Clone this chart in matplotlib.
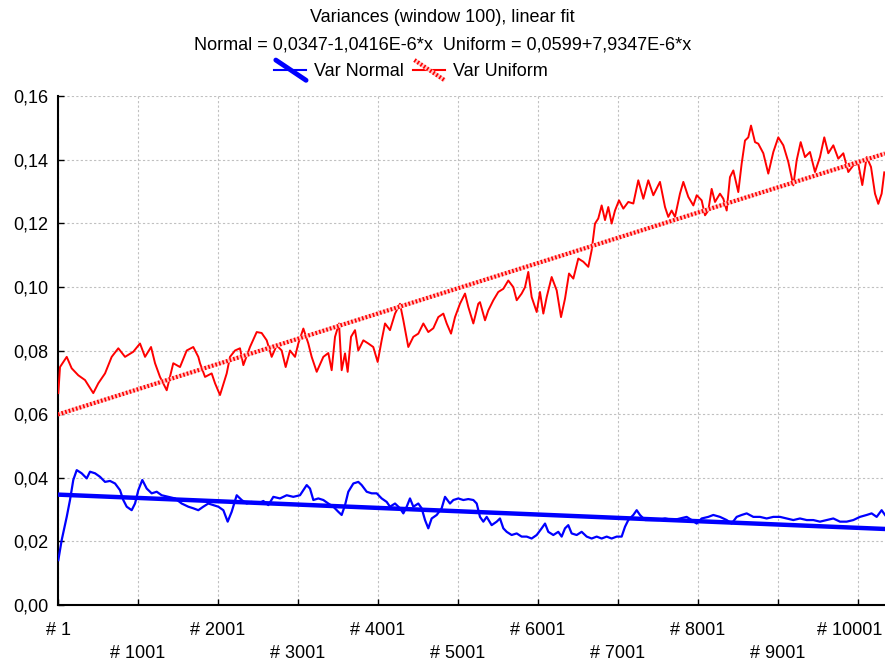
import matplotlib
matplotlib.use("Agg")
import matplotlib.pyplot as plt
from matplotlib.lines import Line2D
from matplotlib.legend_handler import HandlerBase
from matplotlib.ticker import FuncFormatter
from matplotlib.transforms import ScaledTranslation

plt.rcParams['font.family'] = ['Liberation Sans', 'DejaVu Sans']

# %% data (sample index, variance)
red_idx = [5, 26, 110, 172, 255, 339, 442, 505, 589, 672, 755, 839, 942, 1026, 1089, 1164, 1214, 1276,
           1360, 1442, 1526, 1610, 1692, 1755, 1776, 1839, 1922, 1964, 2026, 2110, 2151, 2214, 2276, 2318,
           2401, 2485, 2547, 2610, 2672, 2735, 2797, 2847, 2901, 2964, 3005, 3068, 3130, 3172, 3235, 3318,
           3380, 3422, 3464, 3514, 3547, 3589, 3622, 3664, 3714, 3755, 3818, 3880, 3942, 3997, 4047, 4089,
           4151, 4214, 4276, 4318, 4380, 4443, 4505, 4568, 4630, 4693, 4755, 4818, 4860, 4914, 4964, 5026,
           5089, 5130, 5193, 5255, 5276, 5339, 5380, 5443, 5505, 5568, 5630, 5693, 5735, 5797, 5839, 5880,
           5922, 5985, 6026, 6068, 6110, 6172, 6235, 6289, 6339, 6389, 6443, 6505, 6568, 6630, 6672, 6714,
           6755, 6797, 6839, 6880, 6922, 6964, 7014, 7068, 7130, 7193, 7255, 7318, 7380, 7443, 7526, 7589,
           7630, 7672, 7714, 7776, 7818, 7880, 7943, 7985, 8047, 8089, 8130, 8172, 8214, 8276, 8318, 8360,
           8401, 8443, 8505, 8547, 8589, 8630, 8664, 8714, 8755, 8818, 8880, 8943, 9005, 9068, 9130, 9193,
           9235, 9285, 9339, 9401, 9464, 9526, 9580, 9630, 9693, 9755, 9818, 9880, 9943, 10005, 10055,
           10110, 10164, 10214, 10255, 10297, 10330]
var_uniform = [0.0666, 0.0748, 0.078, 0.0744, 0.0722, 0.0707, 0.0666, 0.0697, 0.0728, 0.078, 0.0807, 0.078,
               0.0796, 0.0822, 0.078, 0.0811, 0.076, 0.0717, 0.0675, 0.076, 0.0748, 0.080, 0.0811, 0.078,
               0.076, 0.0717, 0.0728, 0.0697, 0.066, 0.0728, 0.078, 0.080, 0.0807, 0.0754, 0.0811, 0.0858,
               0.0855, 0.0832, 0.078, 0.0816, 0.080, 0.0748, 0.080, 0.078, 0.0822, 0.0869, 0.0822, 0.078,
               0.0733, 0.078, 0.0792, 0.0738, 0.0843, 0.0885, 0.0738, 0.0791, 0.0733, 0.0843, 0.0864, 0.080,
               0.0832, 0.0822, 0.0811, 0.0764, 0.0832, 0.0885, 0.0864, 0.0916, 0.0947, 0.0895, 0.0811, 0.0843,
               0.0853, 0.0885, 0.0858, 0.087, 0.0905, 0.0916, 0.0885, 0.0853, 0.0905, 0.0947, 0.0979, 0.0937,
               0.0885, 0.0947, 0.0952, 0.0895, 0.0926, 0.0958, 0.0984, 0.0994, 0.102, 0.0999, 0.0958, 0.0979,
               0.0999, 0.1047, 0.0968, 0.0921, 0.0984, 0.0916, 0.0968, 0.1031, 0.0989, 0.0905, 0.0963, 0.1042,
               0.1026, 0.1089, 0.1079, 0.1063, 0.1115, 0.1199, 0.1215, 0.1256, 0.121, 0.1251, 0.1199, 0.124,
               0.1272, 0.1246, 0.1267, 0.1262, 0.1335, 0.1277, 0.1335, 0.1288, 0.133, 0.1251, 0.122, 0.124,
               0.122, 0.1293, 0.133, 0.1283, 0.1256, 0.1288, 0.1272, 0.1225, 0.124, 0.1308, 0.1267, 0.1293,
               0.1277, 0.124, 0.1345, 0.1366, 0.1298, 0.1387, 0.146, 0.147, 0.1507, 0.1455, 0.145, 0.142,
               0.1356, 0.1424, 0.147, 0.1445, 0.1393, 0.1319, 0.1398, 0.1455, 0.1408, 0.1424, 0.1361, 0.1408,
               0.147, 0.142, 0.1445, 0.1403, 0.142, 0.1361, 0.1382, 0.1387, 0.132, 0.1408, 0.1377, 0.1293,
               0.1261, 0.1293, 0.136]

blue_idx = [5, 47, 110, 151, 192, 235, 297, 360, 401, 464, 526, 589, 651, 714, 776, 817, 860, 922, 964,
            1005, 1055, 1110, 1172, 1235, 1297, 1380, 1464, 1547, 1630, 1692, 1755, 1817, 1880, 1942, 2005,
            2068, 2122, 2172, 2235, 2297, 2360, 2422, 2505, 2568, 2630, 2693, 2776, 2860, 2942, 3026, 3068,
            3110, 3151, 3193, 3255, 3318, 3380, 3443, 3505, 3547, 3589, 3630, 3693, 3755, 3797, 3860, 3922,
            3985, 4047, 4110, 4151, 4214, 4276, 4318, 4360, 4401, 4443, 4505, 4547, 4589, 4630, 4672, 4735,
            4797, 4839, 4901, 4943, 5005, 5068, 5130, 5193, 5235, 5276, 5318, 5360, 5422, 5485, 5526, 5568,
            5610, 5672, 5735, 5797, 5860, 5922, 5985, 6047, 6089, 6130, 6193, 6255, 6297, 6339, 6380, 6422,
            6485, 6547, 6610, 6672, 6735, 6797, 6860, 6922, 6985, 7047, 7089, 7130, 7193, 7235, 7276, 7339,
            7422, 7505, 7589, 7693, 7776, 7860, 7922, 7985, 8047, 8130, 8193, 8276, 8360, 8422, 8485, 8547,
            8610, 8693, 8776, 8860, 8943, 9026, 9110, 9193, 9276, 9360, 9443, 9526, 9610, 9693, 9776, 9860,
            9943, 10026, 10110, 10172, 10235, 10297, 10339]
var_normal = [0.0141, 0.0204, 0.0277, 0.033, 0.0393, 0.0424, 0.0414, 0.0398, 0.0419, 0.0414, 0.0403, 0.0387,
              0.039, 0.0382, 0.0361, 0.033, 0.0309, 0.0298, 0.0319, 0.0361, 0.0393, 0.0366, 0.0351, 0.0356,
              0.0345, 0.034, 0.0335, 0.0319, 0.0309, 0.0304, 0.0298, 0.0309, 0.0319, 0.0314, 0.0309, 0.0298,
              0.0262, 0.0293, 0.0345, 0.033, 0.0319, 0.0324, 0.0319, 0.0327, 0.0314, 0.034, 0.0335, 0.0345,
              0.034, 0.0345, 0.0361, 0.0377, 0.0366, 0.033, 0.0335, 0.033, 0.0319, 0.0309, 0.0293, 0.0283,
              0.0314, 0.0356, 0.0382, 0.0387, 0.0377, 0.0356, 0.0351, 0.0351, 0.0335, 0.0324, 0.0309, 0.0319,
              0.0304, 0.0288, 0.0309, 0.0335, 0.0309, 0.0319, 0.0304, 0.0267, 0.0241, 0.0272, 0.0283, 0.0304,
              0.034, 0.0319, 0.033, 0.0335, 0.033, 0.0333, 0.033, 0.0319, 0.0277, 0.0262, 0.0277, 0.0251,
              0.0262, 0.0272, 0.0241, 0.023, 0.022, 0.0225, 0.0215, 0.0215, 0.0209, 0.022, 0.0241, 0.0256,
              0.023, 0.022, 0.023, 0.0215, 0.0241, 0.0251, 0.0225, 0.022, 0.023, 0.0215, 0.0209, 0.0215,
              0.0209, 0.0215, 0.0209, 0.0215, 0.0215, 0.0246, 0.0267, 0.0283, 0.0298, 0.0283, 0.0267, 0.0267,
              0.0267, 0.0272, 0.0267, 0.0272, 0.0277, 0.0267, 0.0256, 0.0272, 0.0277, 0.0283, 0.0277, 0.0267,
              0.0256, 0.0277, 0.0283, 0.0288, 0.0277, 0.0277, 0.0272, 0.0277, 0.0277, 0.0272, 0.0267, 0.0272,
              0.0267, 0.0267, 0.0262, 0.0267, 0.0272, 0.0262, 0.0262, 0.0267, 0.0277, 0.0283, 0.0288, 0.0277,
              0.0298, 0.0283]

# linear fits (end points)
fit_x = [1, 10339]
fit_normal = [0.0347, 0.0239]
fit_uniform = [0.0599, 0.1419]

tick_pos = [1, 1001, 2001, 3001, 4001, 5001, 6001, 7001, 8001, 9001, 10001]
tick_lab = ['# 1', '# 1001', '# 2001', '# 3001', '# 4001', '# 5001',
            '# 6001', '# 7001', '# 8001', '# 9001', '# 10001']

BLUE = '#0000ff'
RED = '#ff0000'
PINK = '#ffc8c8'


class FitHandler(HandlerBase):
    '''Statistica-like legend key: thin series line crossed by a diagonal fit line'''
    def __init__(self, color, hatched):
        super().__init__()
        self.color = color
        self.hatched = hatched

    def create_artists(self, legend, orig_handle, xdescent, ydescent,
                       width, height, fontsize, trans):
        x0, x1 = -xdescent, width - xdescent
        ym = height / 2 - ydescent
        flat = Line2D([x0, x1], [ym, ym], color=self.color, lw=1.5, transform=trans)
        dx = [x0 + 1, x1]
        dy = [ym + height * 0.8, ym - height * 0.8]
        if self.hatched:
            under = Line2D(dx, dy, color=PINK, lw=3, solid_capstyle='butt', transform=trans)
            diag = Line2D(dx, dy, color=self.color, lw=3, dashes=(0.4, 0.5),
                          dash_capstyle='butt', transform=trans)
            return [flat, under, diag]
        diag = Line2D(dx, dy, color=self.color, lw=3.5, solid_capstyle='round', transform=trans)
        return [flat, diag]


fig = plt.figure(figsize=(8.85, 6.61), dpi=100)
ax = fig.add_axes([58 / 885, 56 / 661, 827 / 885, 509 / 661])

ln_n, = ax.plot(blue_idx, var_normal, color=BLUE, lw=1.6, zorder=3)
ln_u, = ax.plot(red_idx, var_uniform, color=RED, lw=1.4, zorder=3)
ax.plot(fit_x, fit_normal, color=BLUE, lw=3.2, zorder=4)
ax.plot(fit_x, fit_uniform, color=PINK, lw=3.0, solid_capstyle='butt', zorder=4)
ax.plot(fit_x, fit_uniform, color=RED, lw=3.0, dashes=(0.4, 0.5), dash_capstyle='butt', zorder=5)

ax.set_xlim(1, 10339)
ax.set_ylim(0, 0.16)
ax.set_yticks([0.0, 0.02, 0.04, 0.06, 0.08, 0.10, 0.12, 0.14, 0.16])
ax.yaxis.set_major_formatter(FuncFormatter(lambda v, p: '{:.2f}'.format(v).replace('.', ',')))
ax.set_xticks(tick_pos)
ax.set_xticklabels(tick_lab)

ax.grid(True, color='#c0c0c0', linestyle=(0, (2, 2)), lw=0.8)
ax.set_axisbelow(True)
for side in ['top', 'right']:
    ax.spines[side].set_visible(False)
for side in ['left', 'bottom']:
    ax.spines[side].set_linewidth(1.5)
    ax.spines[side].set_color('black')

ax.tick_params(axis='both', direction='in', length=4, width=1, labelsize=13, color='black')
ax.tick_params(axis='y', pad=7)
for i, t in enumerate(ax.xaxis.get_major_ticks()):
    t.set_pad(12 if i % 2 == 0 else 29)

# last label sits a bit left so it stays inside the picture
last = ax.xaxis.get_major_ticks()[-1].label1
last.set_transform(last.get_transform() + ScaledTranslation(-8 / 100, 0, fig.dpi_scale_trans))

fig.text(0.5, 1 - 17 / 661, 'Variances (window 100), linear fit', ha='center', va='center', fontsize=13)
fig.text(0.5, 1 - 45 / 661, 'Normal = 0,0347-1,0416E-6*x  Uniform = 0,0599+7,9347E-6*x',
         ha='center', va='center', fontsize=13)

fig.legend([ln_n, ln_u], ['Var Normal', 'Var Uniform'],
           handler_map={ln_n: FitHandler(BLUE, False), ln_u: FitHandler(RED, True)},
           loc='center', bbox_to_anchor=(411 / 885, 1 - 72 / 661), ncol=2, frameon=False,
           fontsize=13, handlelength=1.75, handletextpad=0.45, columnspacing=0.5)

fig.savefig('out.png', dpi=100)
